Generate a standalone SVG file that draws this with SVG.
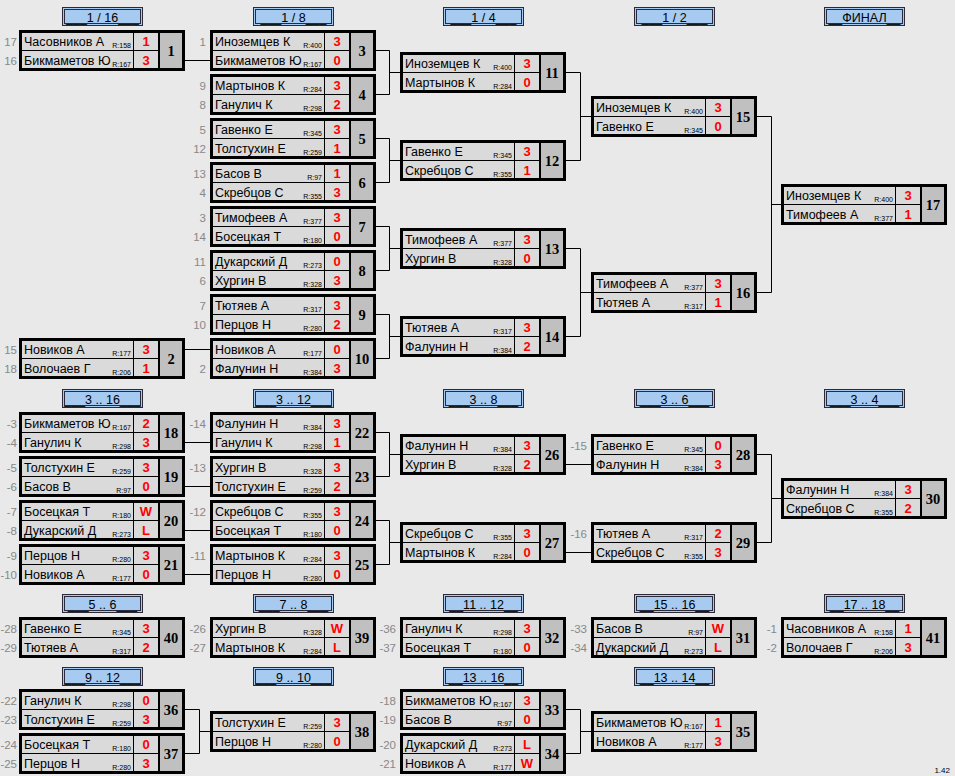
<svg xmlns="http://www.w3.org/2000/svg" xmlns:xlink="http://www.w3.org/1999/xlink" width="955" height="776" viewBox="0 0 955 776">
<style>
text{font-family:"Liberation Sans",Arial,sans-serif}
.nm{font-size:12.5px;fill:#000}
.rt{font-size:7px;fill:#000;text-anchor:end}
.sc{font-size:13px;font-weight:bold;fill:#f00;text-anchor:middle}
.no{font-family:"Liberation Serif","Times New Roman",serif;font-size:14.5px;font-weight:bold;fill:#000;text-anchor:middle}
.sd{font-size:11.5px;fill:#888;text-anchor:end}
.ht{font-size:12.5px;fill:#000;text-anchor:middle}
.cell{fill:#dadada}
.num{fill:#c0c0c0}
.conn path{fill:none;stroke:#000;stroke-width:1}
</style>
<defs>
<g id="bx">
<rect width="166" height="41" fill="#000"/>
<rect class="cell" x="3" y="3" width="111" height="17"/>
<rect class="cell" x="3" y="21" width="111" height="17"/>
<rect class="cell" x="115" y="3" width="24" height="17"/>
<rect class="cell" x="115" y="21" width="24" height="17"/>
<rect class="num" x="141" y="3" width="22" height="35"/>
</g>
<g id="hd">
<rect x="0.5" y="0.5" width="80" height="18" fill="#a6caf0" stroke="#2a2a3a" stroke-width="1"/>
<rect x="2.5" y="2.5" width="76" height="14" fill="none" stroke="#2a2a3a" stroke-width="1"/>
</g>
</defs>
<rect width="955" height="776" fill="#e9e9e9"/>

<g id="headers">
<g transform="translate(62,7)"><use xlink:href="#hd"/><text class="ht" x="40.5" y="15">___1 / 16___</text></g>
<g transform="translate(253,7)"><use xlink:href="#hd"/><text class="ht" x="40.5" y="15">___1 / 8___</text></g>
<g transform="translate(443,7)"><use xlink:href="#hd"/><text class="ht" x="40.5" y="15">___1 / 4___</text></g>
<g transform="translate(634,7)"><use xlink:href="#hd"/><text class="ht" x="40.5" y="15">___1 / 2___</text></g>
<g transform="translate(824,7)"><use xlink:href="#hd"/><text class="ht" x="40.5" y="15">__ФИНАЛ__</text></g>
<g transform="translate(62,389)"><use xlink:href="#hd"/><text class="ht" x="40.5" y="15">___3 .. 16___</text></g>
<g transform="translate(253,389)"><use xlink:href="#hd"/><text class="ht" x="40.5" y="15">___3 .. 12___</text></g>
<g transform="translate(443,389)"><use xlink:href="#hd"/><text class="ht" x="40.5" y="15">___3 .. 8___</text></g>
<g transform="translate(634,389)"><use xlink:href="#hd"/><text class="ht" x="40.5" y="15">___3 .. 6___</text></g>
<g transform="translate(824,389)"><use xlink:href="#hd"/><text class="ht" x="40.5" y="15">___3 .. 4___</text></g>
<g transform="translate(62,594)"><use xlink:href="#hd"/><text class="ht" x="40.5" y="15">___5 .. 6___</text></g>
<g transform="translate(253,594)"><use xlink:href="#hd"/><text class="ht" x="40.5" y="15">___7 .. 8___</text></g>
<g transform="translate(443,594)"><use xlink:href="#hd"/><text class="ht" x="40.5" y="15">__11 .. 12__</text></g>
<g transform="translate(634,594)"><use xlink:href="#hd"/><text class="ht" x="40.5" y="15">__15 .. 16__</text></g>
<g transform="translate(824,594)"><use xlink:href="#hd"/><text class="ht" x="40.5" y="15">__17 .. 18__</text></g>
<g transform="translate(62,667)"><use xlink:href="#hd"/><text class="ht" x="40.5" y="15">___9 .. 12___</text></g>
<g transform="translate(253,667)"><use xlink:href="#hd"/><text class="ht" x="40.5" y="15">___9 .. 10___</text></g>
<g transform="translate(443,667)"><use xlink:href="#hd"/><text class="ht" x="40.5" y="15">__13 .. 16__</text></g>
<g transform="translate(634,667)"><use xlink:href="#hd"/><text class="ht" x="40.5" y="15">__13 .. 14__</text></g>
</g>

<g id="connectors" class="conn">
<path d="M185 60.5H210"/>
<path d="M185 349.5H210"/>
<path d="M376 50.5H389.5V94.5H376M389.5 72.5H400"/>
<path d="M376 138.5H389.5V182.5H376M389.5 160.5H400"/>
<path d="M376 226.5H389.5V270.5H376M389.5 248.5H400"/>
<path d="M376 314.5H389.5V358.5H376M389.5 336.5H400"/>
<path d="M566 72.5H580.5V160.5H566M580.5 116.5H591"/>
<path d="M566 248.5H580.5V336.5H566M580.5 292.5H591"/>
<path d="M757 116.5H771.5V292.5H757M771.5 204.5H781"/>
<path d="M185 442.5H210"/>
<path d="M185 486.5H210"/>
<path d="M185 530.5H210"/>
<path d="M185 574.5H210"/>
<path d="M376 432.5H389.5V476.5H376M389.5 454.5H400"/>
<path d="M376 520.5H389.5V564.5H376M389.5 542.5H400"/>
<path d="M566 464.5H591"/>
<path d="M566 552.5H591"/>
<path d="M757 454.5H771.5V542.5H757M771.5 498.5H781"/>
<path d="M185 709.5H199.5V753.5H185M199.5 731.5H210"/>
<path d="M566 709.5H580.5V753.5H566M580.5 731.5H591"/>
</g>

<g id="m1" transform="translate(19,30)"><use xlink:href="#bx"/><text class="sd" x="-2" y="16">17</text><text class="sd" x="-2" y="35">16</text><text class="nm" x="5" y="16">Часовников А</text><text class="rt" x="112" y="17.5">R:158</text><text class="sc" x="127" y="16">1</text><text class="nm" x="5" y="35">Бикмаметов Ю</text><text class="rt" x="112" y="36.5">R:167</text><text class="sc" x="127" y="35">3</text><text class="no" x="152" y="26">1</text></g>
<g id="m2" transform="translate(19,338)"><use xlink:href="#bx"/><text class="sd" x="-2" y="16">15</text><text class="sd" x="-2" y="35">18</text><text class="nm" x="5" y="16">Новиков А</text><text class="rt" x="112" y="17.5">R:177</text><text class="sc" x="127" y="16">3</text><text class="nm" x="5" y="35">Волочаев Г</text><text class="rt" x="112" y="36.5">R:206</text><text class="sc" x="127" y="35">1</text><text class="no" x="152" y="26">2</text></g>
<g id="m3" transform="translate(210,30)"><use xlink:href="#bx"/><text class="sd" x="-4" y="16">1</text><text class="nm" x="5" y="16">Иноземцев К</text><text class="rt" x="112" y="17.5">R:400</text><text class="sc" x="127" y="16">3</text><text class="nm" x="5" y="35">Бикмаметов Ю</text><text class="rt" x="112" y="36.5">R:167</text><text class="sc" x="127" y="35">0</text><text class="no" x="152" y="26">3</text></g>
<g id="m4" transform="translate(210,74)"><use xlink:href="#bx"/><text class="sd" x="-4" y="16">9</text><text class="sd" x="-4" y="35">8</text><text class="nm" x="5" y="16">Мартынов К</text><text class="rt" x="112" y="17.5">R:284</text><text class="sc" x="127" y="16">3</text><text class="nm" x="5" y="35">Ганулич К</text><text class="rt" x="112" y="36.5">R:298</text><text class="sc" x="127" y="35">2</text><text class="no" x="152" y="26">4</text></g>
<g id="m5" transform="translate(210,118)"><use xlink:href="#bx"/><text class="sd" x="-4" y="16">5</text><text class="sd" x="-4" y="35">12</text><text class="nm" x="5" y="16">Гавенко Е</text><text class="rt" x="112" y="17.5">R:345</text><text class="sc" x="127" y="16">3</text><text class="nm" x="5" y="35">Толстухин Е</text><text class="rt" x="112" y="36.5">R:259</text><text class="sc" x="127" y="35">1</text><text class="no" x="152" y="26">5</text></g>
<g id="m6" transform="translate(210,162)"><use xlink:href="#bx"/><text class="sd" x="-4" y="16">13</text><text class="sd" x="-4" y="35">4</text><text class="nm" x="5" y="16">Басов В</text><text class="rt" x="112" y="17.5">R:97</text><text class="sc" x="127" y="16">1</text><text class="nm" x="5" y="35">Скребцов С</text><text class="rt" x="112" y="36.5">R:355</text><text class="sc" x="127" y="35">3</text><text class="no" x="152" y="26">6</text></g>
<g id="m7" transform="translate(210,206)"><use xlink:href="#bx"/><text class="sd" x="-4" y="16">3</text><text class="sd" x="-4" y="35">14</text><text class="nm" x="5" y="16">Тимофеев А</text><text class="rt" x="112" y="17.5">R:377</text><text class="sc" x="127" y="16">3</text><text class="nm" x="5" y="35">Босецкая Т</text><text class="rt" x="112" y="36.5">R:180</text><text class="sc" x="127" y="35">0</text><text class="no" x="152" y="26">7</text></g>
<g id="m8" transform="translate(210,250)"><use xlink:href="#bx"/><text class="sd" x="-4" y="16">11</text><text class="sd" x="-4" y="35">6</text><text class="nm" x="5" y="16">Дукарский Д</text><text class="rt" x="112" y="17.5">R:273</text><text class="sc" x="127" y="16">0</text><text class="nm" x="5" y="35">Хургин В</text><text class="rt" x="112" y="36.5">R:328</text><text class="sc" x="127" y="35">3</text><text class="no" x="152" y="26">8</text></g>
<g id="m9" transform="translate(210,294)"><use xlink:href="#bx"/><text class="sd" x="-4" y="16">7</text><text class="sd" x="-4" y="35">10</text><text class="nm" x="5" y="16">Тютяев А</text><text class="rt" x="112" y="17.5">R:317</text><text class="sc" x="127" y="16">3</text><text class="nm" x="5" y="35">Перцов Н</text><text class="rt" x="112" y="36.5">R:280</text><text class="sc" x="127" y="35">2</text><text class="no" x="152" y="26">9</text></g>
<g id="m10" transform="translate(210,338)"><use xlink:href="#bx"/><text class="sd" x="-4" y="35">2</text><text class="nm" x="5" y="16">Новиков А</text><text class="rt" x="112" y="17.5">R:177</text><text class="sc" x="127" y="16">0</text><text class="nm" x="5" y="35">Фалунин Н</text><text class="rt" x="112" y="36.5">R:384</text><text class="sc" x="127" y="35">3</text><text class="no" x="152" y="26">10</text></g>
<g id="m11" transform="translate(400,52)"><use xlink:href="#bx"/><text class="nm" x="5" y="16">Иноземцев К</text><text class="rt" x="112" y="17.5">R:400</text><text class="sc" x="127" y="16">3</text><text class="nm" x="5" y="35">Мартынов К</text><text class="rt" x="112" y="36.5">R:284</text><text class="sc" x="127" y="35">0</text><text class="no" x="152" y="26">11</text></g>
<g id="m12" transform="translate(400,140)"><use xlink:href="#bx"/><text class="nm" x="5" y="16">Гавенко Е</text><text class="rt" x="112" y="17.5">R:345</text><text class="sc" x="127" y="16">3</text><text class="nm" x="5" y="35">Скребцов С</text><text class="rt" x="112" y="36.5">R:355</text><text class="sc" x="127" y="35">1</text><text class="no" x="152" y="26">12</text></g>
<g id="m13" transform="translate(400,228)"><use xlink:href="#bx"/><text class="nm" x="5" y="16">Тимофеев А</text><text class="rt" x="112" y="17.5">R:377</text><text class="sc" x="127" y="16">3</text><text class="nm" x="5" y="35">Хургин В</text><text class="rt" x="112" y="36.5">R:328</text><text class="sc" x="127" y="35">0</text><text class="no" x="152" y="26">13</text></g>
<g id="m14" transform="translate(400,316)"><use xlink:href="#bx"/><text class="nm" x="5" y="16">Тютяев А</text><text class="rt" x="112" y="17.5">R:317</text><text class="sc" x="127" y="16">3</text><text class="nm" x="5" y="35">Фалунин Н</text><text class="rt" x="112" y="36.5">R:384</text><text class="sc" x="127" y="35">2</text><text class="no" x="152" y="26">14</text></g>
<g id="m15" transform="translate(591,96)"><use xlink:href="#bx"/><text class="nm" x="5" y="16">Иноземцев К</text><text class="rt" x="112" y="17.5">R:400</text><text class="sc" x="127" y="16">3</text><text class="nm" x="5" y="35">Гавенко Е</text><text class="rt" x="112" y="36.5">R:345</text><text class="sc" x="127" y="35">0</text><text class="no" x="152" y="26">15</text></g>
<g id="m16" transform="translate(591,272)"><use xlink:href="#bx"/><text class="nm" x="5" y="16">Тимофеев А</text><text class="rt" x="112" y="17.5">R:377</text><text class="sc" x="127" y="16">3</text><text class="nm" x="5" y="35">Тютяев А</text><text class="rt" x="112" y="36.5">R:317</text><text class="sc" x="127" y="35">1</text><text class="no" x="152" y="26">16</text></g>
<g id="m17" transform="translate(781,184)"><use xlink:href="#bx"/><text class="nm" x="5" y="16">Иноземцев К</text><text class="rt" x="112" y="17.5">R:400</text><text class="sc" x="127" y="16">3</text><text class="nm" x="5" y="35">Тимофеев А</text><text class="rt" x="112" y="36.5">R:377</text><text class="sc" x="127" y="35">1</text><text class="no" x="152" y="26">17</text></g>

<g id="m18" transform="translate(19,412)"><use xlink:href="#bx"/><text class="sd" x="-2" y="16">-3</text><text class="sd" x="-2" y="35">-4</text><text class="nm" x="5" y="16">Бикмаметов Ю</text><text class="rt" x="112" y="17.5">R:167</text><text class="sc" x="127" y="16">2</text><text class="nm" x="5" y="35">Ганулич К</text><text class="rt" x="112" y="36.5">R:298</text><text class="sc" x="127" y="35">3</text><text class="no" x="152" y="26">18</text></g>
<g id="m19" transform="translate(19,456)"><use xlink:href="#bx"/><text class="sd" x="-2" y="16">-5</text><text class="sd" x="-2" y="35">-6</text><text class="nm" x="5" y="16">Толстухин Е</text><text class="rt" x="112" y="17.5">R:259</text><text class="sc" x="127" y="16">3</text><text class="nm" x="5" y="35">Басов В</text><text class="rt" x="112" y="36.5">R:97</text><text class="sc" x="127" y="35">0</text><text class="no" x="152" y="26">19</text></g>
<g id="m20" transform="translate(19,500)"><use xlink:href="#bx"/><text class="sd" x="-2" y="16">-7</text><text class="sd" x="-2" y="35">-8</text><text class="nm" x="5" y="16">Босецкая Т</text><text class="rt" x="112" y="17.5">R:180</text><text class="sc" x="127" y="16">W</text><text class="nm" x="5" y="35">Дукарский Д</text><text class="rt" x="112" y="36.5">R:273</text><text class="sc" x="127" y="35">L</text><text class="no" x="152" y="26">20</text></g>
<g id="m21" transform="translate(19,544)"><use xlink:href="#bx"/><text class="sd" x="-2" y="16">-9</text><text class="sd" x="-2" y="35">-10</text><text class="nm" x="5" y="16">Перцов Н</text><text class="rt" x="112" y="17.5">R:280</text><text class="sc" x="127" y="16">3</text><text class="nm" x="5" y="35">Новиков А</text><text class="rt" x="112" y="36.5">R:177</text><text class="sc" x="127" y="35">0</text><text class="no" x="152" y="26">21</text></g>
<g id="m22" transform="translate(210,412)"><use xlink:href="#bx"/><text class="sd" x="-4" y="16">-14</text><text class="nm" x="5" y="16">Фалунин Н</text><text class="rt" x="112" y="17.5">R:384</text><text class="sc" x="127" y="16">3</text><text class="nm" x="5" y="35">Ганулич К</text><text class="rt" x="112" y="36.5">R:298</text><text class="sc" x="127" y="35">1</text><text class="no" x="152" y="26">22</text></g>
<g id="m23" transform="translate(210,456)"><use xlink:href="#bx"/><text class="sd" x="-4" y="16">-13</text><text class="nm" x="5" y="16">Хургин В</text><text class="rt" x="112" y="17.5">R:328</text><text class="sc" x="127" y="16">3</text><text class="nm" x="5" y="35">Толстухин Е</text><text class="rt" x="112" y="36.5">R:259</text><text class="sc" x="127" y="35">2</text><text class="no" x="152" y="26">23</text></g>
<g id="m24" transform="translate(210,500)"><use xlink:href="#bx"/><text class="sd" x="-4" y="16">-12</text><text class="nm" x="5" y="16">Скребцов С</text><text class="rt" x="112" y="17.5">R:355</text><text class="sc" x="127" y="16">3</text><text class="nm" x="5" y="35">Босецкая Т</text><text class="rt" x="112" y="36.5">R:180</text><text class="sc" x="127" y="35">0</text><text class="no" x="152" y="26">24</text></g>
<g id="m25" transform="translate(210,544)"><use xlink:href="#bx"/><text class="sd" x="-4" y="16">-11</text><text class="nm" x="5" y="16">Мартынов К</text><text class="rt" x="112" y="17.5">R:284</text><text class="sc" x="127" y="16">3</text><text class="nm" x="5" y="35">Перцов Н</text><text class="rt" x="112" y="36.5">R:280</text><text class="sc" x="127" y="35">0</text><text class="no" x="152" y="26">25</text></g>
<g id="m26" transform="translate(400,434)"><use xlink:href="#bx"/><text class="nm" x="5" y="16">Фалунин Н</text><text class="rt" x="112" y="17.5">R:384</text><text class="sc" x="127" y="16">3</text><text class="nm" x="5" y="35">Хургин В</text><text class="rt" x="112" y="36.5">R:328</text><text class="sc" x="127" y="35">2</text><text class="no" x="152" y="26">26</text></g>
<g id="m27" transform="translate(400,522)"><use xlink:href="#bx"/><text class="nm" x="5" y="16">Скребцов С</text><text class="rt" x="112" y="17.5">R:355</text><text class="sc" x="127" y="16">3</text><text class="nm" x="5" y="35">Мартынов К</text><text class="rt" x="112" y="36.5">R:284</text><text class="sc" x="127" y="35">0</text><text class="no" x="152" y="26">27</text></g>
<g id="m28" transform="translate(591,434)"><use xlink:href="#bx"/><text class="sd" x="-4" y="16">-15</text><text class="nm" x="5" y="16">Гавенко Е</text><text class="rt" x="112" y="17.5">R:345</text><text class="sc" x="127" y="16">0</text><text class="nm" x="5" y="35">Фалунин Н</text><text class="rt" x="112" y="36.5">R:384</text><text class="sc" x="127" y="35">3</text><text class="no" x="152" y="26">28</text></g>
<g id="m29" transform="translate(591,522)"><use xlink:href="#bx"/><text class="sd" x="-4" y="16">-16</text><text class="nm" x="5" y="16">Тютяев А</text><text class="rt" x="112" y="17.5">R:317</text><text class="sc" x="127" y="16">2</text><text class="nm" x="5" y="35">Скребцов С</text><text class="rt" x="112" y="36.5">R:355</text><text class="sc" x="127" y="35">3</text><text class="no" x="152" y="26">29</text></g>
<g id="m30" transform="translate(781,478)"><use xlink:href="#bx"/><text class="nm" x="5" y="16">Фалунин Н</text><text class="rt" x="112" y="17.5">R:384</text><text class="sc" x="127" y="16">3</text><text class="nm" x="5" y="35">Скребцов С</text><text class="rt" x="112" y="36.5">R:355</text><text class="sc" x="127" y="35">2</text><text class="no" x="152" y="26">30</text></g>

<g id="m40" transform="translate(19,617)"><use xlink:href="#bx"/><text class="sd" x="-2" y="16">-28</text><text class="sd" x="-2" y="35">-29</text><text class="nm" x="5" y="16">Гавенко Е</text><text class="rt" x="112" y="17.5">R:345</text><text class="sc" x="127" y="16">3</text><text class="nm" x="5" y="35">Тютяев А</text><text class="rt" x="112" y="36.5">R:317</text><text class="sc" x="127" y="35">2</text><text class="no" x="152" y="26">40</text></g>
<g id="m39" transform="translate(210,617)"><use xlink:href="#bx"/><text class="sd" x="-4" y="16">-26</text><text class="sd" x="-4" y="35">-27</text><text class="nm" x="5" y="16">Хургин В</text><text class="rt" x="112" y="17.5">R:328</text><text class="sc" x="127" y="16">W</text><text class="nm" x="5" y="35">Мартынов К</text><text class="rt" x="112" y="36.5">R:284</text><text class="sc" x="127" y="35">L</text><text class="no" x="152" y="26">39</text></g>
<g id="m32" transform="translate(400,617)"><use xlink:href="#bx"/><text class="sd" x="-4" y="16">-36</text><text class="sd" x="-4" y="35">-37</text><text class="nm" x="5" y="16">Ганулич К</text><text class="rt" x="112" y="17.5">R:298</text><text class="sc" x="127" y="16">3</text><text class="nm" x="5" y="35">Босецкая Т</text><text class="rt" x="112" y="36.5">R:180</text><text class="sc" x="127" y="35">0</text><text class="no" x="152" y="26">32</text></g>
<g id="m31" transform="translate(591,617)"><use xlink:href="#bx"/><text class="sd" x="-4" y="16">-33</text><text class="sd" x="-4" y="35">-34</text><text class="nm" x="5" y="16">Басов В</text><text class="rt" x="112" y="17.5">R:97</text><text class="sc" x="127" y="16">W</text><text class="nm" x="5" y="35">Дукарский Д</text><text class="rt" x="112" y="36.5">R:273</text><text class="sc" x="127" y="35">L</text><text class="no" x="152" y="26">31</text></g>
<g id="m41" transform="translate(781,617)"><use xlink:href="#bx"/><text class="sd" x="-4" y="16">-1</text><text class="sd" x="-4" y="35">-2</text><text class="nm" x="5" y="16">Часовников А</text><text class="rt" x="112" y="17.5">R:158</text><text class="sc" x="127" y="16">1</text><text class="nm" x="5" y="35">Волочаев Г</text><text class="rt" x="112" y="36.5">R:206</text><text class="sc" x="127" y="35">3</text><text class="no" x="152" y="26">41</text></g>

<g id="m36" transform="translate(19,689)"><use xlink:href="#bx"/><text class="sd" x="-2" y="16">-22</text><text class="sd" x="-2" y="35">-23</text><text class="nm" x="5" y="16">Ганулич К</text><text class="rt" x="112" y="17.5">R:298</text><text class="sc" x="127" y="16">0</text><text class="nm" x="5" y="35">Толстухин Е</text><text class="rt" x="112" y="36.5">R:259</text><text class="sc" x="127" y="35">3</text><text class="no" x="152" y="26">36</text></g>
<g id="m37" transform="translate(19,733)"><use xlink:href="#bx"/><text class="sd" x="-2" y="16">-24</text><text class="sd" x="-2" y="35">-25</text><text class="nm" x="5" y="16">Босецкая Т</text><text class="rt" x="112" y="17.5">R:180</text><text class="sc" x="127" y="16">0</text><text class="nm" x="5" y="35">Перцов Н</text><text class="rt" x="112" y="36.5">R:280</text><text class="sc" x="127" y="35">3</text><text class="no" x="152" y="26">37</text></g>
<g id="m38" transform="translate(210,711)"><use xlink:href="#bx"/><text class="nm" x="5" y="16">Толстухин Е</text><text class="rt" x="112" y="17.5">R:259</text><text class="sc" x="127" y="16">3</text><text class="nm" x="5" y="35">Перцов Н</text><text class="rt" x="112" y="36.5">R:280</text><text class="sc" x="127" y="35">0</text><text class="no" x="152" y="26">38</text></g>
<g id="m33" transform="translate(400,689)"><use xlink:href="#bx"/><text class="sd" x="-4" y="16">-18</text><text class="sd" x="-4" y="35">-19</text><text class="nm" x="5" y="16">Бикмаметов Ю</text><text class="rt" x="112" y="17.5">R:167</text><text class="sc" x="127" y="16">3</text><text class="nm" x="5" y="35">Басов В</text><text class="rt" x="112" y="36.5">R:97</text><text class="sc" x="127" y="35">0</text><text class="no" x="152" y="26">33</text></g>
<g id="m34" transform="translate(400,733)"><use xlink:href="#bx"/><text class="sd" x="-4" y="16">-20</text><text class="sd" x="-4" y="35">-21</text><text class="nm" x="5" y="16">Дукарский Д</text><text class="rt" x="112" y="17.5">R:273</text><text class="sc" x="127" y="16">L</text><text class="nm" x="5" y="35">Новиков А</text><text class="rt" x="112" y="36.5">R:177</text><text class="sc" x="127" y="35">W</text><text class="no" x="152" y="26">34</text></g>
<g id="m35" transform="translate(591,711)"><use xlink:href="#bx"/><text class="nm" x="5" y="16">Бикмаметов Ю</text><text class="rt" x="112" y="17.5">R:167</text><text class="sc" x="127" y="16">1</text><text class="nm" x="5" y="35">Новиков А</text><text class="rt" x="112" y="36.5">R:177</text><text class="sc" x="127" y="35">3</text><text class="no" x="152" y="26">35</text></g>

<text x="950" y="773" style="font-size:8px;fill:#000;text-anchor:end">1.42</text>
</svg>
